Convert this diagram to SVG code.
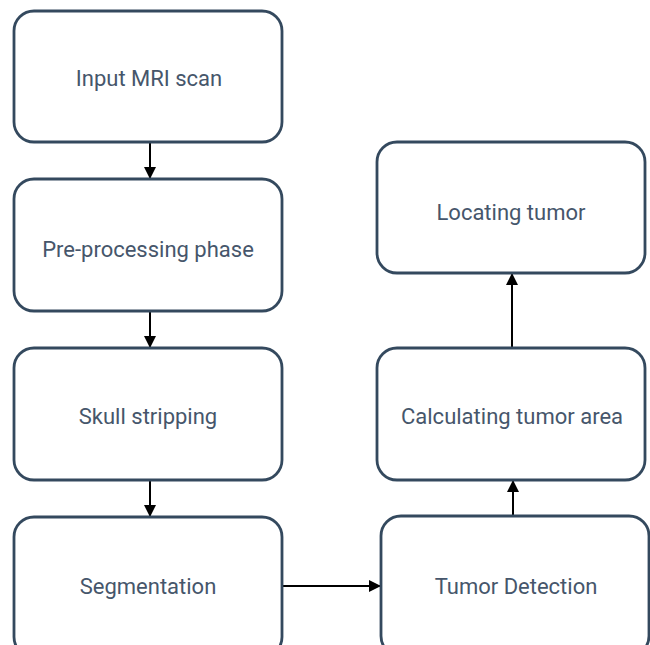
<svg xmlns="http://www.w3.org/2000/svg" width="650" height="645" viewBox="0 0 650 645">
  <style>
    .box { fill: #ffffff; stroke: #34495e; stroke-width: 2.8; }
    .label { font-family: Roboto, "Noto Sans", "Liberation Sans", sans-serif; font-size: 22px; fill: #46566b; text-anchor: middle; dominant-baseline: central; }
    .edge { stroke: #000000; stroke-width: 2; fill: none; }
  </style>
  <defs>
    <marker id="arrow" viewBox="0 0 10 10" refX="10" refY="5" markerWidth="13" markerHeight="12" markerUnits="userSpaceOnUse" orient="auto">
      <path d="M0,0 L10,5 L0,10 z" fill="#000000"/>
    </marker>
  </defs>
  <rect width="650" height="645" fill="#ffffff"/>

  <g id="connectors">
    <line class="edge" x1="150" y1="142" x2="150" y2="179" marker-end="url(#arrow)"/>
    <line class="edge" x1="150" y1="311" x2="150" y2="348" marker-end="url(#arrow)"/>
    <line class="edge" x1="150" y1="480" x2="150" y2="517" marker-end="url(#arrow)"/>
    <line class="edge" x1="282" y1="586" x2="381" y2="586" marker-end="url(#arrow)"/>
    <line class="edge" x1="513" y1="516" x2="513" y2="480" marker-end="url(#arrow)"/>
    <line class="edge" x1="512" y1="348" x2="512" y2="273" marker-end="url(#arrow)"/>
  </g>

  <g id="input-mri-scan">
    <rect class="box" x="14" y="11" width="268" height="131" rx="20"/>
    <text class="label" x="149" y="78">Input MRI scan</text>
  </g>
  <g id="pre-processing">
    <rect class="box" x="14" y="179" width="268" height="132" rx="20"/>
    <text class="label" x="148" y="249">Pre-processing phase</text>
  </g>
  <g id="skull-stripping">
    <rect class="box" x="14" y="348" width="268" height="132" rx="20"/>
    <text class="label" x="148" y="416">Skull stripping</text>
  </g>
  <g id="segmentation">
    <rect class="box" x="14" y="517" width="268" height="140" rx="20"/>
    <text class="label" x="148" y="586">Segmentation</text>
  </g>
  <g id="tumor-detection">
    <rect class="box" x="381" y="516" width="268" height="140" rx="20"/>
    <text class="label" x="516" y="586">Tumor Detection</text>
  </g>
  <g id="calculating-area">
    <rect class="box" x="377" y="348" width="268" height="132" rx="20"/>
    <text class="label" x="512" y="416">Calculating tumor area</text>
  </g>
  <g id="locating-tumor">
    <rect class="box" x="377" y="142" width="268" height="131" rx="20"/>
    <text class="label" x="511" y="212">Locating tumor</text>
  </g>
</svg>
